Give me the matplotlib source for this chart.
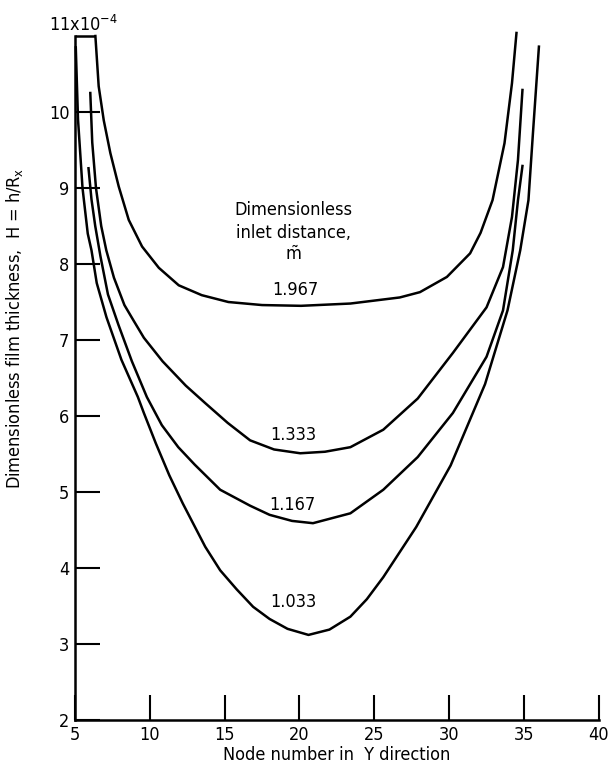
import matplotlib
matplotlib.use("Agg")
import matplotlib.pyplot as plt

plt.rcParams['font.family'] = ['DejaVu Sans']
plt.rcParams['font.stretch'] = 'condensed'
plt.rcParams['mathtext.default'] = 'regular'

# curves (H in units of 1e-4)
x_1967 = [6.36, 6.58, 6.92, 7.36, 7.92, 8.59, 9.48, 10.6, 11.93, 13.47, 15.25, 17.5, 20.1, 23.4, 26.7, 28.05, 29.85, 31.4, 32.1, 32.9, 33.7, 34.2, 34.5]
y_1967 = [11.0, 10.34, 9.89, 9.46, 9.02, 8.58, 8.23, 7.95, 7.72, 7.59, 7.50, 7.46, 7.45, 7.48, 7.56, 7.63, 7.83, 8.14, 8.41, 8.84, 9.59, 10.38, 11.04]

x_1333 = [6.02, 6.15, 6.4, 6.75, 7.09, 7.6, 8.3, 8.9, 9.6, 10.85, 12.4, 13.7, 15.2, 16.7, 18.3, 20.05, 21.7, 23.4, 25.6, 27.9, 30.25, 32.5, 33.6, 34.2, 34.6, 34.9]
y_1333 = [10.25, 9.6, 9.0, 8.5, 8.18, 7.82, 7.46, 7.26, 7.03, 6.72, 6.40, 6.17, 5.91, 5.68, 5.56, 5.51, 5.53, 5.59, 5.82, 6.23, 6.83, 7.43, 7.96, 8.62, 9.37, 10.29]

x_1167 = [5.9, 6.1, 6.35, 6.7, 7.2, 7.9, 8.8, 9.8, 10.8, 11.9, 13.0, 14.7, 16.7, 18.0, 19.5, 20.9, 23.4, 25.6, 27.9, 30.25, 32.5, 33.6, 34.25, 34.6, 34.9]
y_1167 = [9.26, 8.85, 8.5, 8.1, 7.6, 7.2, 6.72, 6.25, 5.88, 5.59, 5.36, 5.03, 4.82, 4.7, 4.62, 4.59, 4.72, 5.03, 5.46, 6.04, 6.78, 7.39, 8.18, 8.84, 9.29]

x_1033 = [5.05, 5.2, 5.5, 5.85, 6.1, 6.45, 7.1, 8.1, 9.2, 9.6, 10.4, 11.3, 12.2, 13.7, 14.7, 15.8, 16.9, 18.0, 19.2, 20.6, 22.0, 23.4, 24.5, 25.6, 27.8, 30.1, 32.4, 33.9, 34.75, 35.3, 35.6, 36.0]
y_1033 = [10.85, 9.9, 9.0, 8.4, 8.18, 7.75, 7.30, 6.74, 6.25, 6.04, 5.64, 5.22, 4.85, 4.28, 3.97, 3.72, 3.49, 3.33, 3.20, 3.12, 3.19, 3.36, 3.59, 3.88, 4.54, 5.35, 6.42, 7.39, 8.18, 8.84, 9.72, 10.86]

curves = [(x_1967, y_1967, '1.967', 19.7, 7.66),
          (x_1333, y_1333, '1.333', 19.6, 5.75),
          (x_1167, y_1167, '1.167', 19.5, 4.83),
          (x_1033, y_1033, '1.033', 19.6, 3.55)]

xticks = [5, 10, 15, 20, 25, 30, 35, 40]
yticks = [2, 3, 4, 5, 6, 7, 8, 9, 10]

fig = plt.figure(figsize=(6.11, 7.71), dpi=100)
ax = fig.add_axes([0.1228, 0.0661, 0.8572, 0.8872])

for xs, ys, lab, lx, ly in curves:
    ax.plot(xs, ys, color='black', lw=1.8, clip_on=False, solid_joinstyle='round')
    ax.text(lx, ly, lab, ha='center', va='center', fontsize=13)

# short cap at top of the axis
ax.hlines(11, 5, x_1967[0], color='black', lw=1.8, clip_on=False)

ax.text(19.6, 8.41, 'Dimensionless\ninlet distance,\n$\\tilde{m}$', ha='center', va='center',
        fontsize=13, linespacing=1.3)

ax.set_xlim(5, 40)
ax.set_ylim(2, 11)
ax.set_xticks(xticks)
ax.set_yticks(yticks)
ax.set_xticklabels([str(t) for t in xticks], fontsize=13)
ax.set_yticklabels([str(t) for t in yticks], fontsize=13)
ax.tick_params(direction='in', length=18, width=1.5, pad=4)
ax.spines['top'].set_visible(False)
ax.spines['right'].set_visible(False)
ax.spines['left'].set_linewidth(1.8)
ax.spines['bottom'].set_linewidth(1.8)

ax.annotate('11x10$^{-4}$', xy=(0, 1), xycoords='axes fraction', xytext=(-19, 1),
            textcoords='offset points', ha='left', va='bottom', fontsize=13)

ax.set_xlabel('Node number in  Y direction', fontsize=13, labelpad=2)
ax.set_ylabel('Dimensionless film thickness,  H = h/R$_x$', fontsize=13)
ax.yaxis.set_label_coords(-0.095, 0.572)

fig.savefig('out.png', dpi=100)
